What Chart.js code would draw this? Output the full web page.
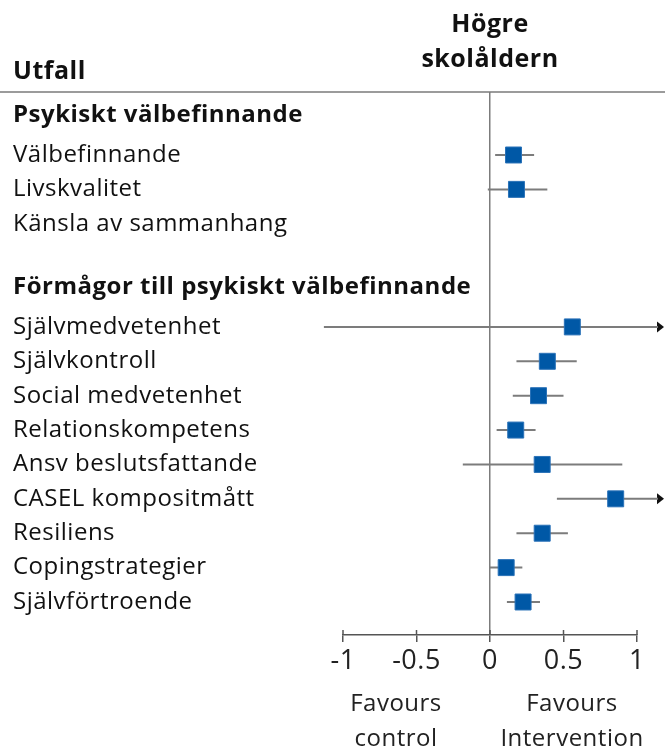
<!DOCTYPE html>
<html>
<head>
<meta charset="utf-8">
<script src="https://cdn.jsdelivr.net/npm/chart.js@4/dist/chart.umd.min.js"></script>
<style>
  html, body { margin: 0; padding: 0; background: #ffffff; }
  #wrap { width: 665px; height: 753px; }
</style>
</head>
<body>
<div id="wrap"><canvas id="c" width="665" height="753"></canvas></div>
<script>
// ---- Data ----
const outcomes = [
  'Psykiskt välbefinnande',
  'Välbefinnande',
  'Livskvalitet',
  'Känsla av sammanhang',
  '',
  'Förmågor till psykiskt välbefinnande',
  'Självmedvetenhet',
  'Självkontroll',
  'Social medvetenhet',
  'Relationskompetens',
  'Ansv beslutsfattande',
  'CASEL kompositmått',
  'Resiliens',
  'Copingstrategier',
  'Självförtroende'
];
const isHeader = [true, false, false, false, false, true, false, false, false, false, false, false, false, false, false];
const estimate = [null, 0.16, 0.18, null, null, null, 0.56, 0.39, 0.33, 0.175, 0.355, 0.855, 0.355, 0.11, 0.225];
const ciLow    = [null, 0.035, -0.015, null, null, null, -1.13, 0.18, 0.155, 0.045, -0.185, 0.455, 0.18, -0.005, 0.115];
const ciHigh   = [null, 0.30, 0.39, null, null, null, null, 0.59, 0.50, 0.31, 0.90, null, 0.53, 0.22, 0.34];
// CI upper limit beyond the axis (drawn as arrow)
const ciHighOffAxis = [false, false, false, false, false, false, true, false, false, false, false, true, false, false, false];
const xTicks = [-1, -0.5, 0, 0.5, 1];
const columnTitle = ['Högre', 'skolåldern'];
const rowTitle = 'Utfall';
const favours = [['Favours', 'control'], ['Favours', 'Intervention']];

// ---- Styling ----
const FONT = "'Open Sans', 'DejaVu Sans', sans-serif";
const BLUE = '#0058a6';
const ARROW_END = 1.143; // where off-axis CIs end (display only)

const ciData = [];
const pointData = [];
outcomes.forEach((name, i) => {
  if (estimate[i] === null) return;
  const hi = ciHighOffAxis[i] ? ARROW_END : ciHigh[i];
  ciData.push({ x: ciLow[i], y: i }, { x: hi, y: i }, { x: null, y: null });
  pointData.push({ x: estimate[i], y: i });
});

const decor = {
  id: 'decor',
  beforeDraw(chart) {
    chart.ctx.letterSpacing = '0.5px';
  },
  beforeDatasetsDraw(chart) {
    // arrowheads for CIs that continue beyond the axis
    const ctx = chart.ctx;
    const xs = chart.scales.x, ys = chart.scales.y;
    ctx.save();
    ctx.fillStyle = '#111';
    outcomes.forEach((_, i) => {
      if (!ciHighOffAxis[i]) return;
      const bx = xs.getPixelForValue(ARROW_END);
      const py = ys.getPixelForValue(i);
      ctx.beginPath();
      ctx.moveTo(bx - 1, py - 5.5);
      ctx.lineTo(bx + 6, py);
      ctx.lineTo(bx - 1, py + 5.5);
      ctx.closePath();
      ctx.fill();
    });
    ctx.restore();
  },
  afterDraw(chart) {
    const ctx = chart.ctx;
    const ca = chart.chartArea;
    const xs = chart.scales.x, ys = chart.scales.y;
    ctx.save();
    // header rule
    ctx.strokeStyle = '#7a7a7a';
    ctx.lineWidth = 1.5;
    ctx.beginPath();
    ctx.moveTo(0, ca.top);
    ctx.lineTo(chart.width, ca.top);
    ctx.stroke();
    // tick marks above axis
    ctx.strokeStyle = '#555';
    ctx.lineWidth = 1.5;
    xTicks.forEach(v => {
      const px = xs.getPixelForValue(v);
      ctx.beginPath();
      ctx.moveTo(px, ca.bottom - 5);
      ctx.lineTo(px, ca.bottom);
      ctx.stroke();
    });
    // row labels (drawn unclipped so long headers can run into plot area)
    ctx.fillStyle = '#111';
    ctx.textBaseline = 'middle';
    ctx.textAlign = 'left';
    outcomes.forEach((name, i) => {
      if (!name) return;
      ctx.font = (isHeader[i] ? 'bold ' : '') + '24px ' + FONT;
      const py = ys.getPixelForValue(i) - (isHeader[i] ? 5 : 0);
      ctx.fillText(name, 13, py);
    });
    // titles
    ctx.font = 'bold 25px ' + FONT;
    ctx.fillText(rowTitle, 13, 72);
    ctx.textAlign = 'center';
    const x0 = xs.getPixelForValue(0);
    ctx.fillText(columnTitle[0], x0, 25);
    ctx.fillText(columnTitle[1], x0, 60);
    // favours labels
    ctx.font = '24px ' + FONT;
    ctx.fillStyle = '#222';
    const leftC = 396, rightC = 572;
    ctx.fillText(favours[0][0], leftC, 704);
    ctx.fillText(favours[0][1], leftC, 739);
    ctx.fillText(favours[1][0], rightC, 704);
    ctx.fillText(favours[1][1], rightC, 739);
    ctx.restore();
  }
};

new Chart(document.getElementById('c'), {
  type: 'scatter',
  data: {
    datasets: [
      {
        label: 'CI',
        data: ciData,
        showLine: true,
        spanGaps: false,
        borderColor: '#7c7c7c',
        borderWidth: 2,
        pointRadius: 0,
        clip: false,
        order: 2
      },
      {
        label: 'Estimate',
        data: pointData,
        pointStyle: 'rect',
        pointRadius: 11.3,
        backgroundColor: BLUE,
        borderColor: '#2a72b8',
        borderWidth: 1,
        clip: false,
        order: 1
      }
    ]
  },
  options: {
    responsive: false,
    animation: false,
    events: [],
    layout: { padding: { left: 13, right: 28, top: 92, bottom: 0 } },
    plugins: { legend: { display: false }, tooltip: { enabled: false } },
    scales: {
      x: {
        type: 'linear',
        min: -1,
        max: 1,
        afterFit(scale) { scale.height = 118; },
        afterBuildTicks(scale) { scale.ticks = xTicks.map(v => ({ value: v })); },
        ticks: {
          font: { family: FONT, size: 27 },
          color: '#222',
          padding: 3,
          maxRotation: 0,
          callback: v => String(v)
        },
        grid: {
          color: ctx => (ctx.tick && ctx.tick.value === 0) ? '#7c7c7c' : 'rgba(0,0,0,0)',
          lineWidth: 1.5,
          tickColor: '#555',
          tickWidth: 1.5,
          tickLength: 7
        },
        border: { display: true, color: '#555', width: 1.5 }
      },
      y: {
        type: 'linear',
        reverse: true,
        min: -0.832,
        max: 14.96,
        afterFit(scale) { scale.width = 330; },
        afterBuildTicks(scale) { scale.ticks = outcomes.map((_, i) => ({ value: i })); },
        ticks: { display: false },
        grid: { display: false },
        border: { display: false }
      }
    }
  },
  plugins: [decor]
});
</script>
</body>
</html>
